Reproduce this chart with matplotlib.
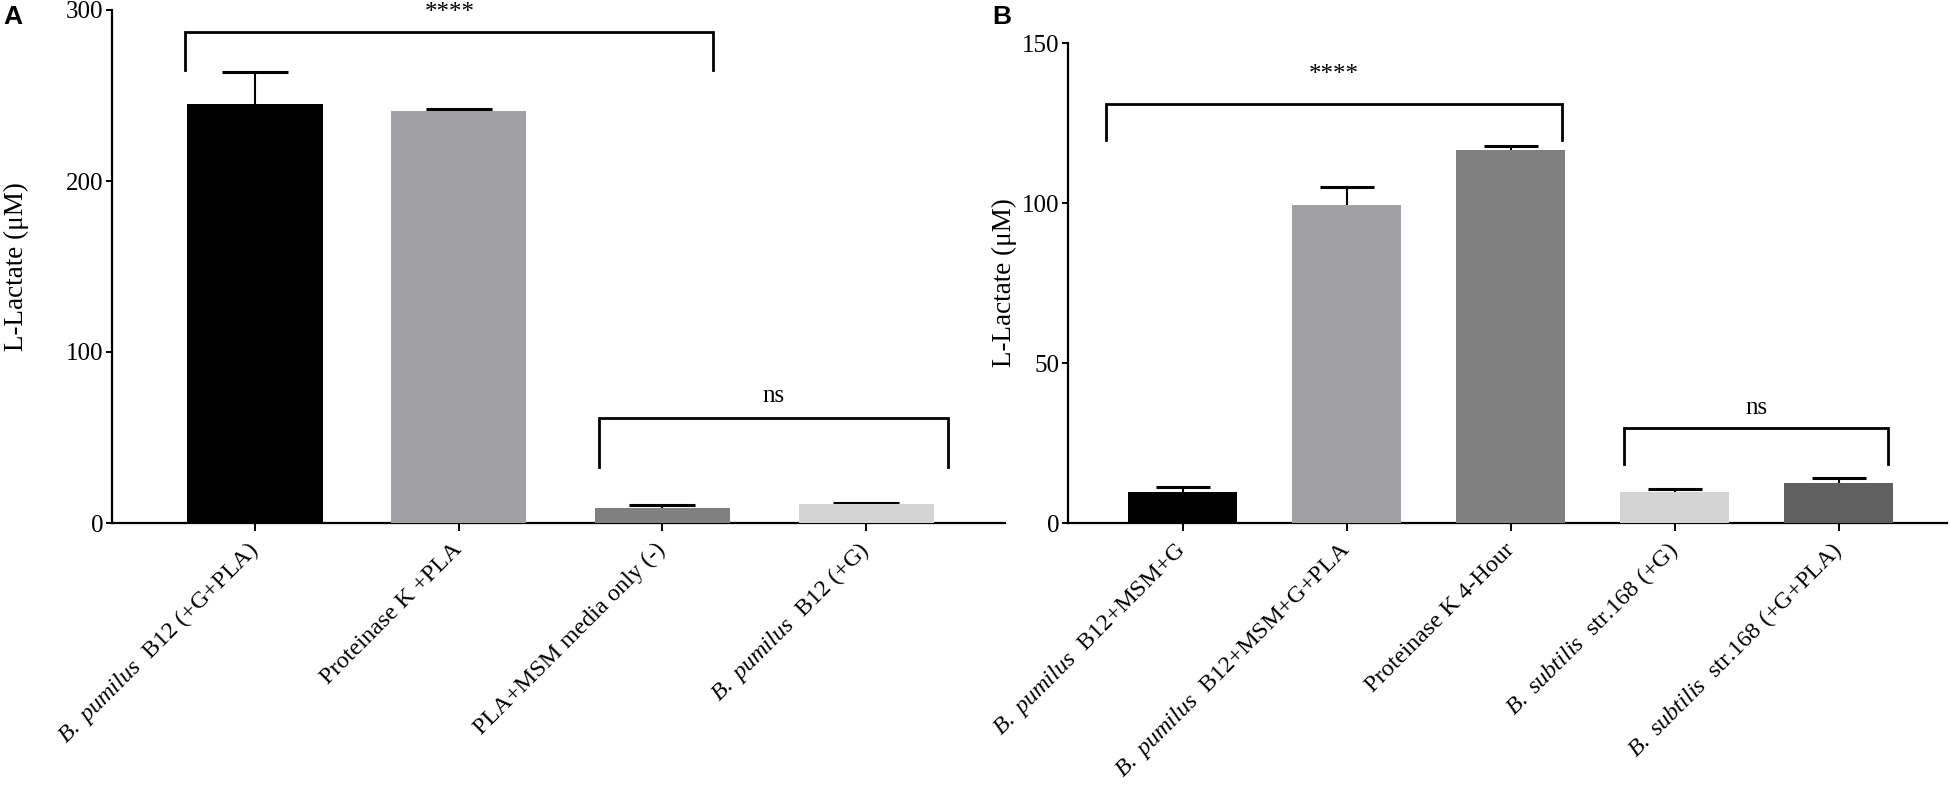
import matplotlib
matplotlib.use("Agg")
import matplotlib.pyplot as plt
import numpy as np

plt.rcParams['font.family'] = ['Liberation Serif', 'DejaVu Serif']
plt.rcParams['mathtext.fontset'] = 'custom'
plt.rcParams['mathtext.rm'] = 'Liberation Serif'
plt.rcParams['mathtext.it'] = 'Liberation Serif:italic'

# ---- data ----
cats_a = [r"$\mathit{B.\ pumilus}$  B12 (+G+PLA)", "Proteinase K +PLA",
          "PLA+MSM media only (-)", r"$\mathit{B.\ pumilus}$  B12 (+G)"]
vals_a = [245, 241, 9, 11]
errs_a = [19, 1.0, 1.5, 0.7]
cols_a = ["#000000", "#a1a1a5", "#808080", "#d4d4d4"]

cats_b = [r"$\mathit{B.\ pumilus}$  B12+MSM+G",
          r"$\mathit{B.\ pumilus}$  B12+MSM+G+PLA",
          "Proteinase K 4-Hour", r"$\mathit{B.\ subtilis}$  str.168 (+G)",
          r"$\mathit{B.\ subtilis}$  str.168 (+G+PLA)"]
vals_b = [9.7, 99.3, 116.7, 9.6, 12.5]
errs_b = [1.7, 5.8, 1.0, 1.0, 1.5]
cols_b = ["#000000", "#a1a1a5", "#808080", "#d4d4d4", "#606060"]

W, H = 1950, 797
fig = plt.figure(figsize=(W / 100, H / 100), dpi=100)

def px_box(left, right, top, bottom):
    return [left / W, 1 - bottom / H, (right - left) / W, (bottom - top) / H]

axA = fig.add_axes(px_box(112, 1005, 10, 523))
axB = fig.add_axes(px_box(1068, 1947, 43, 523))

def draw(ax, cats, vals, errs, cols, ymax, yticks, xlim, capsize):
    x = np.arange(len(cats))
    ax.bar(x, vals, width=0.665, color=cols, zorder=3)
    cont = ax.errorbar(x, vals, yerr=[np.zeros(len(vals)), errs], fmt='none',
                       ecolor='black', elinewidth=1.5, capsize=capsize,
                       capthick=2.2, zorder=2)
    # keep only the upper caps
    for cl in cont[1]:
        yd = np.asarray(cl.get_ydata(), dtype=float)
        if np.allclose(yd, np.asarray(vals, dtype=float)):
            cl.set_visible(False)
    ax.set_xlim(*xlim)
    ax.set_ylim(0, ymax)
    ax.set_yticks(yticks)
    ax.set_xticks(x)
    ax.set_xticklabels(cats, rotation=45, ha='right', va='center',
                       rotation_mode='anchor', fontsize=17.5)
    for s in ['top', 'right']:
        ax.spines[s].set_visible(False)
    for s in ['left', 'bottom']:
        ax.spines[s].set_linewidth(1.6)
    ax.tick_params(axis='y', length=4, width=1.4, pad=2, labelsize=18)
    ax.tick_params(axis='x', length=6, width=1.4, pad=11)
    ax.set_ylabel("L-Lactate (\u03bcM)", fontsize=19.5)

draw(axA, cats_a, vals_a, errs_a, cols_a, 300, [0, 100, 200, 300],
     (-0.70, 3.68), 24)
draw(axB, cats_b, vals_b, errs_b, cols_b, 150, [0, 50, 100, 150],
     (-0.70, 4.66), 19.5)
axA.yaxis.set_label_coords(-0.093, 0.5)
axB.yaxis.set_label_coords(-0.058, 0.5)

def bracket(ax, x0, x1, ytop, yleg, text, ytext):
    ax.plot([x0, x0, x1, x1], [yleg, ytop, ytop, yleg], color='black',
            lw=2.0, clip_on=False, zorder=4, solid_joinstyle='miter')
    ax.text((x0 + x1) / 2, ytext, text, ha='center', va='center',
            fontsize=18, clip_on=False)

bracket(axA, -0.34, 2.25, 287, 265, "****", 298)
bracket(axA, 1.69, 3.40, 61.5, 32.5, "ns", 74)
bracket(axB, -0.47, 2.31, 131, 119.7, "****", 140)
bracket(axB, 2.69, 4.30, 29.8, 18.5, "ns", 36)

fig.text(3 / W, 1 - 17 / H, "A", fontsize=19, fontweight='bold',
         family='Liberation Sans', va='center', ha='left')
fig.text(992 / W, 1 - 17 / H, "B", fontsize=19, fontweight='bold',
         family='Liberation Sans', va='center', ha='left')

fig.savefig("out.png", dpi=100)
